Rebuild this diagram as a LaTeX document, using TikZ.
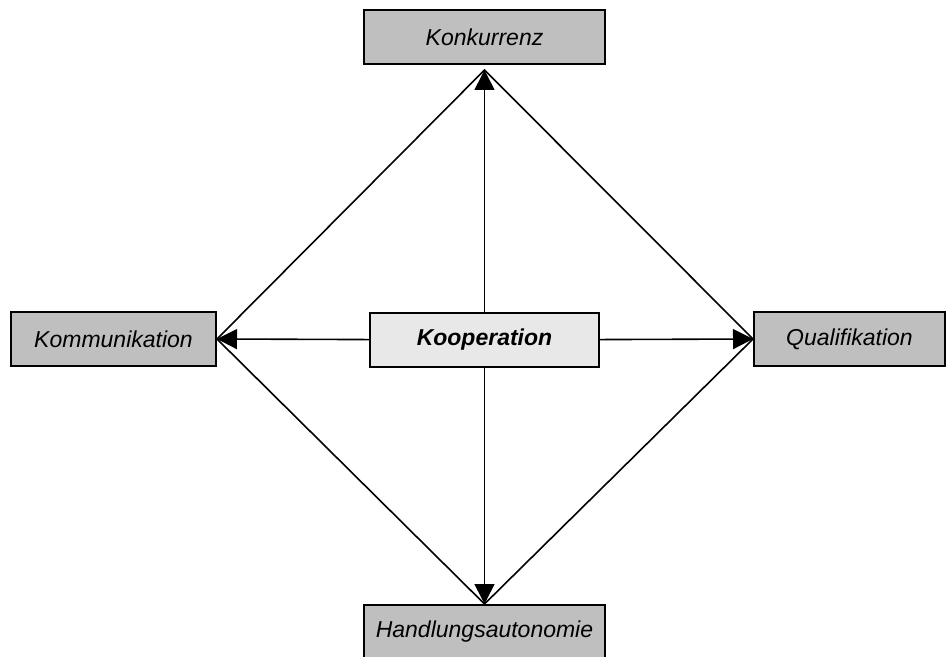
\documentclass[tikz,border=0pt]{standalone}
\usepackage{fontspec}
\setmainfont{Liberation Sans}
\usetikzlibrary{arrows.meta, positioning}

\begin{document}
\begin{tikzpicture}[x=0.5pt, y=-0.5pt, >={Triangle[length=10pt, width=10pt]},
  font=\fontsize{11.5}{13}\selectfont\itshape,
  box/.style={draw, line width=1pt, fill=black!25, inner sep=0pt, minimum height=27pt},
  link/.style={line width=0.8pt}]
\useasboundingbox (0,0) rectangle (947,657);
\node[box, minimum width=120.5pt] (konk) at (484.5,37.5) {Konkurrenz};
\node[box, minimum width=102.5pt] (komm) at (113.5,339) {Kommunikation};
\node[box, minimum width=95.5pt] (qual) at (849.5,339) {Qualifikation};
\node[box, minimum width=120.5pt] (hand) at (484.5,632) {Handlungsautonomie};
\node[box, fill=black!9, minimum width=114.5pt, font=\fontsize{11.5}{13}\selectfont\bfseries\itshape] (koop) at (484.5,340) {Kooperation};
% corners of the diamond
\coordinate (top) at (484.5,70);
\coordinate (left) at (komm.east);
\coordinate (right) at (qual.west);
\coordinate (bot) at (hand.north);
\draw[link] (top) -- (left) -- (bot) -- (right) -- cycle;
\draw[link, ->] (koop) -- (top);
\draw[link, ->] (koop) -- (left);
\draw[link, ->] (koop) -- (right);
\draw[link, ->] (koop) -- (bot);
\end{tikzpicture}
\end{document}
